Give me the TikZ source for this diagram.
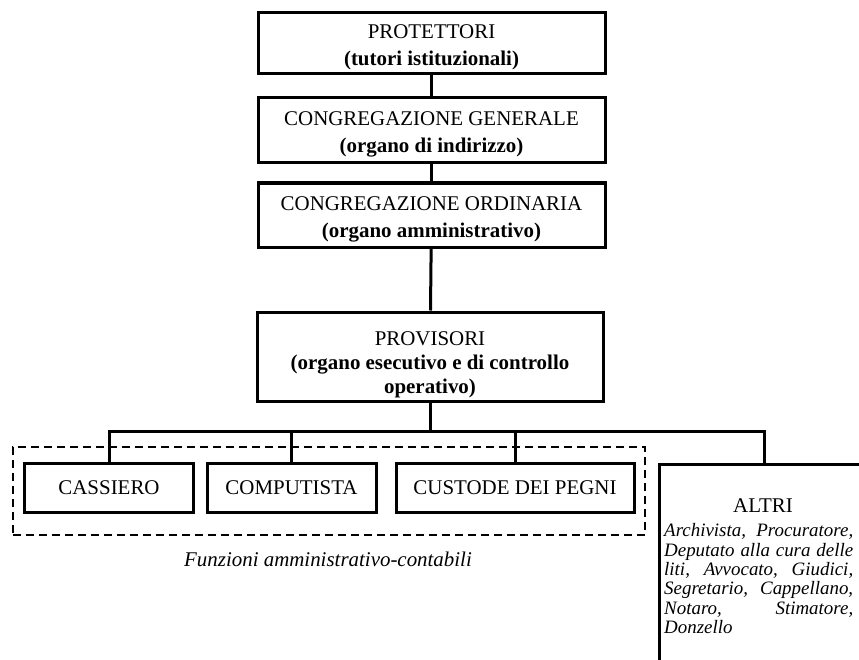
\documentclass[tikz,border=0pt]{standalone}
\usepackage{fontspec}
\setmainfont{Liberation Serif}
\usetikzlibrary{positioning}
\newlength{\altriw}
\setlength{\altriw}{189bp}
% taller first line pushes the multi-line captions down a little
\newcommand{\toprule}[1][22bp]{\rule{0pt}{#1}}
% one justified line of the ALTRI list, stacked in vertical mode
\newcommand{\jline}[1]{\hbox to \altriw{#1}}
\begin{document}
\begin{tikzpicture}[x=1bp, y=-1bp,
  box/.style={draw, line width=3bp, rectangle, inner sep=0pt, align=center,
    font=\fontsize{21}{24}\selectfont},
  wire/.style={line width=3bp},
  groupbox/.style={draw, dashed, line width=2.2bp, dash pattern=on 8bp off 5bp,
    rectangle, inner sep=0pt},
  caption/.style={font=\fontsize{21}{24}\selectfont\itshape, inner sep=0pt}
]
\useasboundingbox (0,0) rectangle (859,660);

% governing bodies
\node[box, minimum width=347bp, minimum height=61bp] (prot) at (431.5,43.5)
  {\toprule PROTETTORI\\[3bp]\textbf{(tutori istituzionali)}};
\node[box, minimum width=347bp, minimum height=64bp] (cg) at (431.5,130)
  {\toprule CONGREGAZIONE GENERALE\\[3bp]\textbf{(organo di indirizzo)}};
\node[box, minimum width=347bp, minimum height=64bp] (co) at (431.5,215)
  {\toprule CONGREGAZIONE ORDINARIA\\[3bp]\textbf{(organo amministrativo)}};
\node[box, minimum width=346bp, minimum height=89bp] (prov) at (430,356.5)
  {\toprule[30bp]PROVISORI\\\textbf{(organo esecutivo e di controllo}\\\textbf{operativo)}};

% administrative and accounting offices
\node[groupbox, minimum width=632bp, minimum height=88bp] (grp) at (329,491) {};
\node[box, minimum width=168bp, minimum height=49bp] (cass) at (109,487.5) {CASSIERO};
\node[box, minimum width=169bp, minimum height=49bp] (comp) at (291.5,487.5) {COMPUTISTA};
\node[box, minimum width=238bp, minimum height=49bp] (cust) at (515,487.5) {CUSTODE DEI PEGNI};
\node[caption] (cap) at (328,559) {Funzioni amministrativo-contabili};

% other officers (box runs off the page)
\node[draw, line width=3bp, rectangle, minimum width=240bp, minimum height=240bp,
  inner sep=0pt, anchor=north west] (altri) at (658,463) {};
\node[inner sep=0pt, font=\fontsize{21}{24}\selectfont] (altrititle) at (763,506) {ALTRI};
\node[anchor=north west, inner sep=0pt, text width=\altriw,
  font=\fontsize{19}{19.4}\selectfont\itshape] (altritxt) at (664,523.5)
  {\jline{Archivista,\hfill Procuratore,}
   \jline{Deputato\hfill alla\hfill cura\hfill delle}
   \jline{liti,\hfill Avvocato,\hfill Giudici,}
   \jline{Segretario,\hfill Cappellano,}
   \jline{Notaro,\hfill Stimatore,}
   \jline{Donzello\hfill}};

% connectors
\coordinate (busy) at (0,431);
\coordinate (altriin) at (764,463);
\draw[wire] (prot) -- (cg);
\draw[wire] (cg) -- (co);
\draw[wire] (co) -- (prov);
\draw[wire] (prov.south) -- (prov.south |- busy);
\draw[wire] (cass.north) -- (cass.north |- busy) -- (busy -| altriin) -- (altriin);
\draw[wire] (comp.north) -- (comp.north |- busy);
\draw[wire] (cust.north) -- (cust.north |- busy);
\end{tikzpicture}
\end{document}
